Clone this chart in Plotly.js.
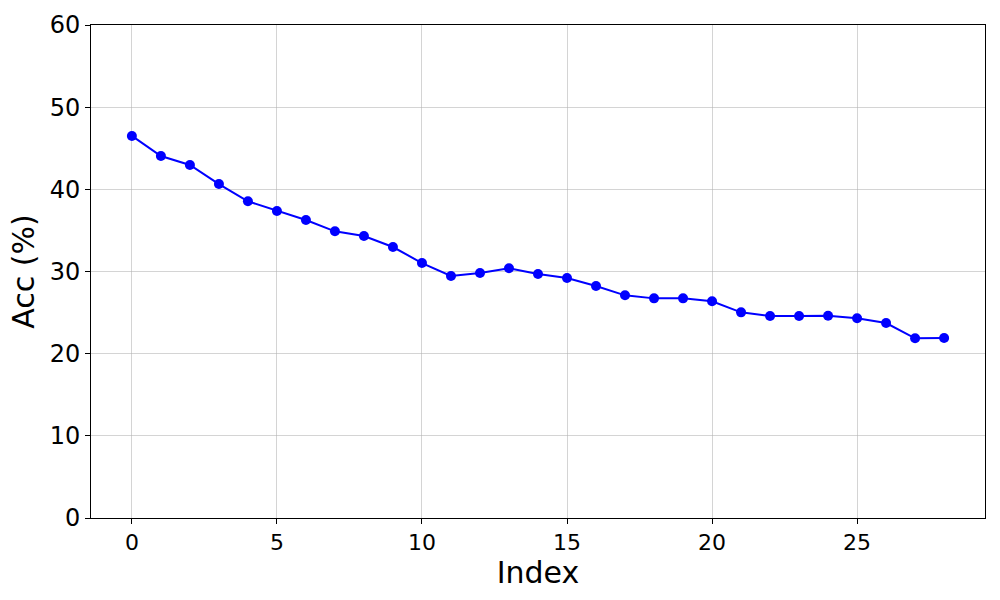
<!DOCTYPE html>
<html>
<head>
<meta charset="utf-8">
<script src="https://cdn.plot.ly/plotly-3.0.1.min.js"></script>
<style>html,body{margin:0;padding:0;background:#fff;}#chart{width:1000px;height:600px;}</style>
</head>
<body>
<div id="chart"></div>
<script>
const indexValues = [0,1,2,3,4,5,6,7,8,9,10,11,12,13,14,15,16,17,18,19,20,21,22,23,24,25,26,27,28];
const accValues = [46.5,44.05,42.96,40.64,38.54,37.36,36.27,34.89,34.32,32.98,31.03,29.45,29.82,30.39,29.69,29.21,28.23,27.1,26.73,26.73,26.37,25.03,24.58,24.58,24.62,24.3,23.73,21.87,21.9];
const xTicks = [0,5,10,15,20,25];
const yTicks = [0,10,20,30,40,50,60];

const font = "DejaVu Sans, sans-serif";
const trace = {
  x: indexValues, y: accValues, type: 'scatter', mode: 'lines+markers',
  line: {color: '#0000ff', width: 2},
  marker: {color: '#0000ff', size: 10},
  hoverinfo: 'skip'
};
const axisCommon = {
  showline: true, linecolor: '#000', linewidth: 1, mirror: true,
  ticks: 'outside', ticklen: 5, tickcolor: '#000', tickwidth: 1,
  showgrid: true, gridcolor: 'rgba(176,176,176,0.55)', gridwidth: 1,
  zeroline: false
};
const layout = {
  width: 1000, height: 600,
  margin: {l: 91, r: 15, t: 25, b: 82},
  paper_bgcolor: '#fff', plot_bgcolor: '#fff',
  showlegend: false,
  xaxis: Object.assign({}, axisCommon, {
    range: [-1.41, 29.41], tickmode: 'array', tickvals: xTicks,
    tickfont: {family: font, size: 22, color: '#000'},
    title: {text: 'Index', font: {family: font, size: 30, color: '#000'}, standoff: 3}
  }),
  yaxis: Object.assign({}, axisCommon, {
    range: [0, 60], tickmode: 'array', tickvals: yTicks,
    tickfont: {family: font, size: 24, color: '#000'},
    title: {text: 'Acc (%)', font: {family: font, size: 30, color: '#000'}, standoff: 6}
  })
};
Plotly.newPlot('chart', [trace], layout, {staticPlot: true});
</script>
</body>
</html>
